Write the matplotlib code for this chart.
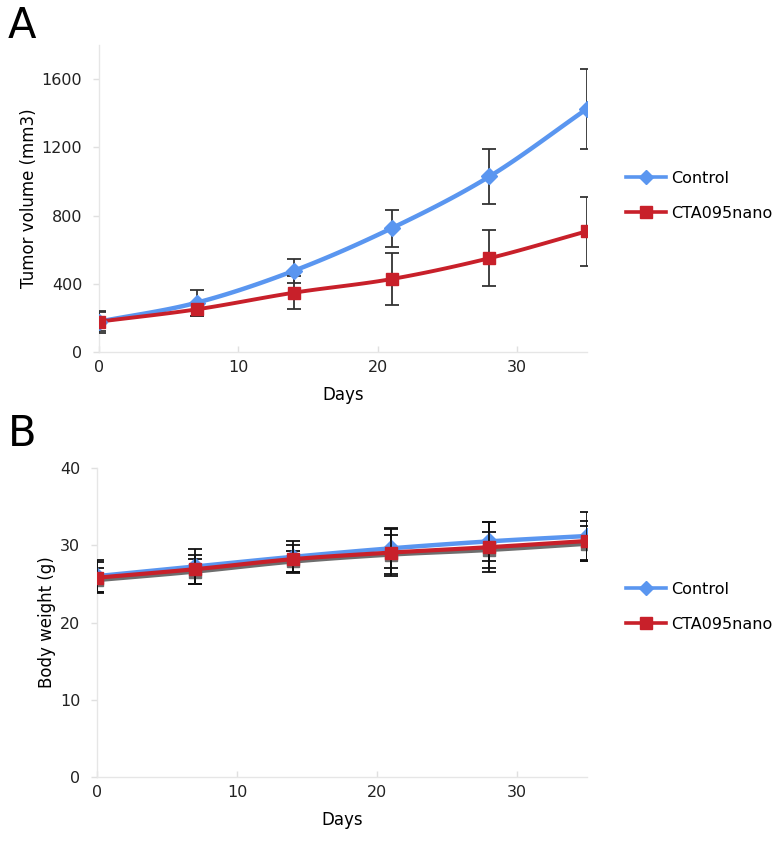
import numpy as np
import matplotlib
matplotlib.use("Agg")
import matplotlib.pyplot as plt
from matplotlib.lines import Line2D

days = [0, 7, 14, 21, 28, 35]

# Panel A: tumor volume (mm3)
tumor_control = [178, 289, 477, 726, 1029, 1426]
tumor_control_err = [65, 75, 70, 108, 160, 235]
tumor_cta = [178, 250, 348, 428, 550, 708]
tumor_cta_err = [55, 40, 95, 152, 165, 203]

# Panel B: body weight (g)
weight_control = [26.0, 27.25, 28.5, 29.6, 30.5, 31.2]
weight_control_err = [2.1, 2.3, 2.0, 2.6, 2.5, 3.1]
weight_cta = [25.8, 26.9, 28.2, 29.05, 29.75, 30.55]
weight_cta_err = [2.0, 1.9, 1.8, 3.0, 3.2, 2.6]
weight_other = [25.5, 26.6, 27.9, 28.8, 29.4, 30.2]
weight_other_err = [1.6, 1.6, 1.4, 2.5, 2.3, 2.3]

series_labels = ["Control", "CTA095nano"]
BLUE = "#5a96f0"
RED = "#c8202a"
GREY = "#6e6e6e"
ERR = "#333333"

plt.rcParams['font.family'] = ['DejaVu Sans']


def smooth(x, y, n=20):
    x = np.asarray(x, float); y = np.asarray(y, float)
    P = np.column_stack([x, y])
    P = np.vstack([2 * P[0] - P[1], P, 2 * P[-1] - P[-2]])
    out = []
    for i in range(1, len(P) - 2):
        p0, p1, p2, p3 = P[i - 1], P[i], P[i + 1], P[i + 2]
        t = np.linspace(0, 1, n, endpoint=False)[:, None]
        seg = 0.5 * ((2 * p1) + (-p0 + p2) * t + (2 * p0 - 5 * p1 + 4 * p2 - p3) * t ** 2
                     + (-p0 + 3 * p1 - 3 * p2 + p3) * t ** 3)
        out.append(seg)
    out.append(P[-2][None, :])
    out = np.vstack(out)
    return out[:, 0], out[:, 1]


def style_axes(ax):
    for s in ['top', 'right']:
        ax.spines[s].set_visible(False)
    for s in ['left', 'bottom']:
        ax.spines[s].set_color('#e6e6e6')
        ax.spines[s].set_linewidth(1.0)
    ax.tick_params(axis='both', colors='#e0e0e0', labelcolor='#222222', labelsize=11.5,
                   length=4, width=1)
    ax.tick_params(axis='x', direction='in', pad=6)
    ax.tick_params(axis='y', pad=8)


fig = plt.figure(figsize=(7.82, 8.47), dpi=100)
W, H = 782, 847


def add_ax(left, top, right, bottom):
    return fig.add_axes([left / W, 1 - bottom / H, (right - left) / W, (bottom - top) / H])


# Panel A
axA = add_ax(99, 45, 587, 352)
style_axes(axA)
sx, sy = smooth(days, tumor_control)
axA.plot(sx, sy, color=BLUE, lw=3.2, zorder=3, solid_capstyle='round')
axA.errorbar(days, tumor_control, yerr=tumor_control_err, fmt='none', ecolor=ERR,
             elinewidth=1.3, capsize=5, capthick=1.3, zorder=4)
axA.plot(days, tumor_control, ls='none', marker='D', ms=8, color=BLUE, zorder=5)
sx, sy = smooth(days, tumor_cta)
axA.plot(sx, sy, color=RED, lw=2.8, zorder=3, solid_capstyle='round')
axA.errorbar(days, tumor_cta, yerr=tumor_cta_err, fmt='none', ecolor=ERR,
             elinewidth=1.3, capsize=5, capthick=1.3, zorder=4)
axA.plot(days, tumor_cta, ls='none', marker='s', ms=9, color=RED, zorder=6)
axA.set_xlim(0, 35)
axA.set_ylim(0, 1800)
axA.set_xticks([0, 10, 20, 30])
axA.set_yticks([0, 400, 800, 1200, 1600])
axA.set_xlabel("Days", fontsize=12, labelpad=8)
axA.set_ylabel("Tumor volume (mm3)", fontsize=12, labelpad=3)

# Panel B
axB = add_ax(97, 468, 587, 777)
style_axes(axB)
for vals, errs, col, mk, lw, z in [
        (weight_other, weight_other_err, GREY, 's', 3.2, 2),
        (weight_control, weight_control_err, BLUE, 'D', 3.2, 3),
        (weight_cta, weight_cta_err, RED, 's', 3.0, 4)]:
    sx, sy = smooth(days, vals)
    axB.plot(sx, sy, color=col, lw=lw, zorder=z)
    axB.errorbar(days, vals, yerr=errs, fmt='none', ecolor='#111111',
                 elinewidth=1.3, capsize=5, capthick=1.3, zorder=z + 0.5)
    axB.plot(days, vals, ls='none', marker=mk, ms=9 if mk == 's' else 8, color=col, zorder=z + 0.6)
axB.set_xlim(0, 35)
axB.set_ylim(0, 40)
axB.set_xticks([0, 10, 20, 30])
axB.set_yticks([0, 10, 20, 30, 40])
axB.set_xlabel("Days", fontsize=12, labelpad=8)
axB.set_ylabel("Body weight (g)", fontsize=12, labelpad=3)

handles = [Line2D([], [], color=BLUE, lw=2.6, marker='D', ms=7.5),
           Line2D([], [], color=RED, lw=2.6, marker='s', ms=8.5)]
for ax, ycen in [(axA, 196), (axB, 607)]:
    fig.legend(handles, series_labels, loc='center left',
               bbox_to_anchor=(612 / W, 1 - ycen / H), frameon=False, fontsize=11.5,
               handlelength=2.5, labelspacing=1.25, handletextpad=0.3)

fig.text(8 / W, 1 - 5 / H, "A", fontsize=30, va='top', ha='left')
fig.text(8 / W, 1 - 413 / H, "B", fontsize=30, va='top', ha='left')

fig.savefig("out.png", dpi=100)
